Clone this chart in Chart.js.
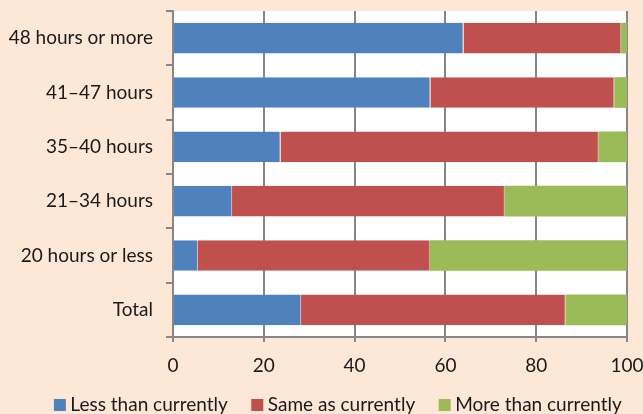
<!DOCTYPE html>
<html><head><meta charset="utf-8">
<script src="https://cdn.jsdelivr.net/npm/chart.js@4/dist/chart.umd.min.js"></script>
<style>html,body{margin:0;padding:0;background:#FDE8D8;}#wrap{width:643px;height:414px;}</style>
</head><body><div id="wrap"><canvas id="c" width="643" height="414"></canvas></div>
<script>
const categories = ["48 hours or more","41\u201347 hours","35\u201340 hours","21\u201334 hours","20 hours or less","Total"];
const lessThan = [64.0, 56.7, 23.7, 13.0, 5.5, 28.2];
const sameAs = [34.7, 40.5, 70.1, 60.1, 51.1, 58.3];
const moreThan = [1.3, 2.8, 6.2, 26.9, 43.4, 13.5];
const seriesNames = ["Less than currently","Same as currently","More than currently"];
const xTicks = [0,20,40,60,80,100];

const FONT = "Lato, 'Open Sans', sans-serif";
const FSIZE = 19;
const plotBg = {id:'plotBg', beforeDraw(chart){const a=chart.chartArea,ctx=chart.ctx;ctx.save();ctx.fillStyle='#FFFFFF';ctx.fillRect(a.left,a.top,a.right-a.left,a.bottom-a.top);ctx.restore();}};
const customLegend = {id:'customLegend', afterDraw(chart){
  const ctx=chart.ctx; ctx.save();
  ctx.font = FSIZE+'px '+FONT; ctx.textBaseline='middle'; ctx.textAlign='left';
  const box=12, gap=4.5, spacing=23.5, y=405;
  const items = chart.data.datasets.map(d=>({text:d.label,color:d.backgroundColor,w:ctx.measureText(d.label).width}));
  let total = items.reduce((s,i)=>s+box+gap+i.w,0)+spacing*(items.length-1);
  let x = 337.8 - total/2;
  items.forEach(i=>{
    ctx.fillStyle=i.color; ctx.fillRect(x, y-6, box, 12);
    ctx.fillStyle='#1a1a1a'; ctx.fillText(i.text, x+box+gap, y);
    x += box+gap+i.w+spacing;
  });
  ctx.restore();
}};
function zeroPad(s){s.paddingLeft=0;s.paddingRight=0;s.paddingTop=0;s.paddingBottom=0;}
new Chart(document.getElementById('c'), {
  type:'bar',
  data:{labels:categories, datasets:[
    {label:seriesNames[0], data:lessThan, backgroundColor:'#4F81BD', borderColor:'#A9C0DE', borderWidth:{right:1}, borderSkipped:false},
    {label:seriesNames[1], data:sameAs, backgroundColor:'#C0504D', borderColor:'#D99795', borderWidth:{right:1}, borderSkipped:false},
    {label:seriesNames[2], data:moreThan, backgroundColor:'#9BBB59', borderWidth:0}
  ]},
  options:{
    indexAxis:'y', responsive:false, animation:false, devicePixelRatio:1,
    categoryPercentage:1, barPercentage:0.565,
    layout:{padding:{left:0,right:16,top:11,bottom:40}},
    plugins:{legend:{display:false}, tooltip:{enabled:false}},
    scales:{
      x:{stacked:true, min:0, max:100, afterBuildTicks(s){s.ticks=xTicks.map(v=>({value:v}));},
        grid:{color:'#878787', lineWidth:2, tickLength:5, drawTicks:true},
        border:{color:'#878787', width:2},
        ticks:{font:{family:FONT,size:FSIZE}, color:'#1a1a1a', padding:12},
        afterFit(s){s.height=37; zeroPad(s);}
      },
      y:{stacked:true,
        grid:{drawOnChartArea:false, color:'#878787', lineWidth:2, tickLength:7},
        border:{color:'#878787', width:2},
        ticks:{font:{family:FONT,size:FSIZE}, color:'#1a1a1a', padding:13},
        afterFit(s){s.width=173; zeroPad(s);}
      }
    }
  },
  plugins:[plotBg, customLegend]
});
</script></body></html>
